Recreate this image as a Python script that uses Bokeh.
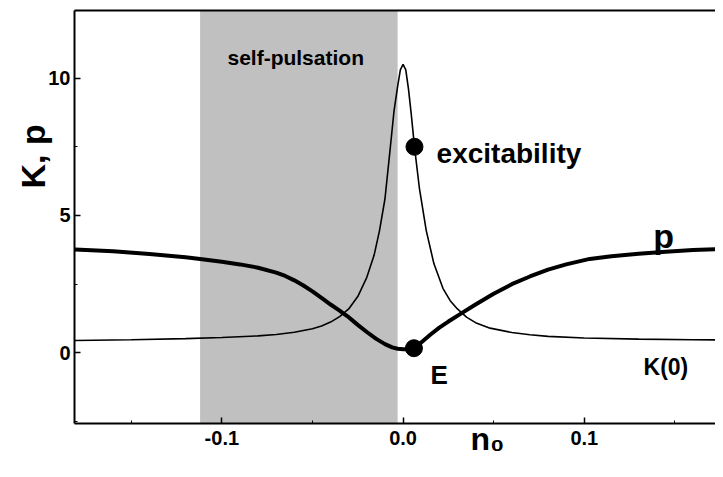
from bokeh.plotting import figure
from bokeh.models import (FixedTicker, NumeralTickFormatter, BoxAnnotation,
                          Title, Range1d, LinearAxis)
from bokeh.core.properties import value
from bokeh.embed import file_html
from bokeh.resources import INLINE

# ---- data ----
n0_k = [-0.181, -0.15, -0.12, -0.10, -0.08, -0.07, -0.06, -0.05, -0.045, -0.04,
        -0.035, -0.03, -0.025, -0.02, -0.016, -0.013, -0.010, -0.007, -0.005,
        -0.003, -0.0015, 0.0, 0.0015, 0.003, 0.0045, 0.0063, 0.009, 0.0128,
        0.017, 0.022, 0.026, 0.03, 0.035, 0.04, 0.048, 0.06, 0.07, 0.08, 0.10,
        0.13, 0.16, 0.18]
k_vals = [0.45, 0.48, 0.52, 0.56, 0.62, 0.67, 0.75, 0.88, 0.98, 1.12,
          1.32, 1.6, 2.05, 2.75, 3.55, 4.45, 5.6, 7.5, 8.8,
          9.7, 10.3, 10.5, 10.3, 9.6, 8.7, 7.5, 6.0, 4.45,
          3.25, 2.35, 1.9, 1.6, 1.3, 1.1, 0.9, 0.74, 0.66, 0.6, 0.54,
          0.5, 0.48, 0.47]

n0_p = [-0.181, -0.16, -0.14, -0.12, -0.112, -0.10, -0.09, -0.08, -0.07, -0.065,
        -0.06, -0.055, -0.05, -0.045, -0.04, -0.035, -0.033, -0.03, -0.025,
        -0.02, -0.015, -0.01, -0.006, -0.003, 0.0, 0.003, 0.006, 0.01, 0.015,
        0.02, 0.025, 0.0317, 0.04, 0.05, 0.06, 0.07, 0.08, 0.09, 0.103, 0.115,
        0.13, 0.145, 0.16, 0.175, 0.18]
p_vals = [3.76, 3.70, 3.60, 3.48, 3.42, 3.32, 3.22, 3.10, 2.92, 2.80,
          2.64, 2.45, 2.24, 2.0, 1.76, 1.54, 1.44, 1.30, 1.02,
          0.76, 0.52, 0.32, 0.2, 0.15, 0.13, 0.13, 0.17, 0.38, 0.66,
          0.92, 1.14, 1.42, 1.76, 2.15, 2.5, 2.78, 3.03, 3.22, 3.42, 3.52,
          3.61, 3.68, 3.74, 3.78, 3.79]

excit_n0 = [0.0063]
excit_k = [7.5]
e_n0 = [0.006]
e_p = [0.17]

band_left, band_right = -0.112, -0.003

x_major = [-0.1, 0.0, 0.1]
x_minor = [-0.15, -0.05, 0.05, 0.15]
y_major = [0, 5, 10]
y_minor = [-2.5, 2.5, 7.5]

FONT = "Liberation Sans"

p = figure(width=715, height=461, output_backend="svg", toolbar_location=None,
           x_range=Range1d(-0.1813, 0.1724), y_range=Range1d(-2.57, 12.46),
           min_border_left=74, min_border_right=0, min_border_top=10,
           min_border_bottom=38)
p.outline_line_color = None
p.grid.visible = False
p.background_fill_color = "white"
p.border_fill_color = "white"

for ax in (p.xaxis[0], p.yaxis[0]):
    ax.axis_line_width = 2
    ax.axis_line_color = "black"
    ax.major_tick_in = 6
    ax.major_tick_out = 0
    ax.minor_tick_in = 3
    ax.minor_tick_out = 0
    ax.major_tick_line_width = 1.5
    ax.minor_tick_line_width = 1
    ax.major_tick_line_color = "black"
    ax.minor_tick_line_color = "black"
    ax.major_label_text_font = FONT
    ax.major_label_text_font_style = "bold"
    ax.major_label_text_font_size = "20px"
    ax.major_label_text_color = "black"

p.xaxis.ticker = FixedTicker(ticks=x_major, minor_ticks=x_minor)
p.xaxis.formatter = NumeralTickFormatter(format="0.0")
p.xaxis.major_label_standoff = 7
p.yaxis.ticker = FixedTicker(ticks=y_major, minor_ticks=y_minor)
p.yaxis.major_label_standoff = 4

# top frame line (the right side of the original is cropped, so no outline)
top_axis = LinearAxis(ticker=FixedTicker(ticks=[]), axis_line_width=2,
                      axis_line_color="black", major_tick_line_color=None,
                      minor_tick_line_color=None, major_label_text_font_size="0px",
                      major_label_standoff=0)
p.add_layout(top_axis, "above")

# axis titles, placed off-centre like the original
p.add_layout(Title(text="K, p", align="left", offset=235, standoff=-12,
                   text_font=FONT, text_font_style="bold", text_font_size="34px",
                   text_color="black"), "left")
p.add_layout(Title(text="n₀", align="left", offset=396, standoff=-54,
                   vertical_align="top",
                   text_font=FONT, text_font_style="bold", text_font_size="32px",
                   text_color="black"), "below")

p.add_layout(BoxAnnotation(left=band_left, right=band_right, fill_color="#c0c0c0",
                           fill_alpha=1.0, line_color=None, level="underlay"))

p.line(n0_k, k_vals, line_color="black", line_width=1.6)
p.line(n0_p, p_vals, line_color="black", line_width=4, line_join="round")
p.scatter(excit_n0, excit_k, size=17, color="black")
p.scatter(e_n0, e_p, size=17, color="black")

def txt(x, y, s, size):
    p.text(x=[x], y=[y], text=[s], text_font=value(FONT), text_font_style="bold",
           text_font_size=size, text_color="black", text_baseline="alphabetic",
           text_align="left")

txt(-0.0969, 10.75, "self-pulsation", "21px")
txt(0.0185, 7.26, "excitability", "28px")
txt(0.0152, -0.79, "E", "26px")
txt(0.1327, -0.52, "K(0)", "23px")
txt(0.138, 4.27, "p", "34px")

open("out.html", "w").write(file_html(p, INLINE))
